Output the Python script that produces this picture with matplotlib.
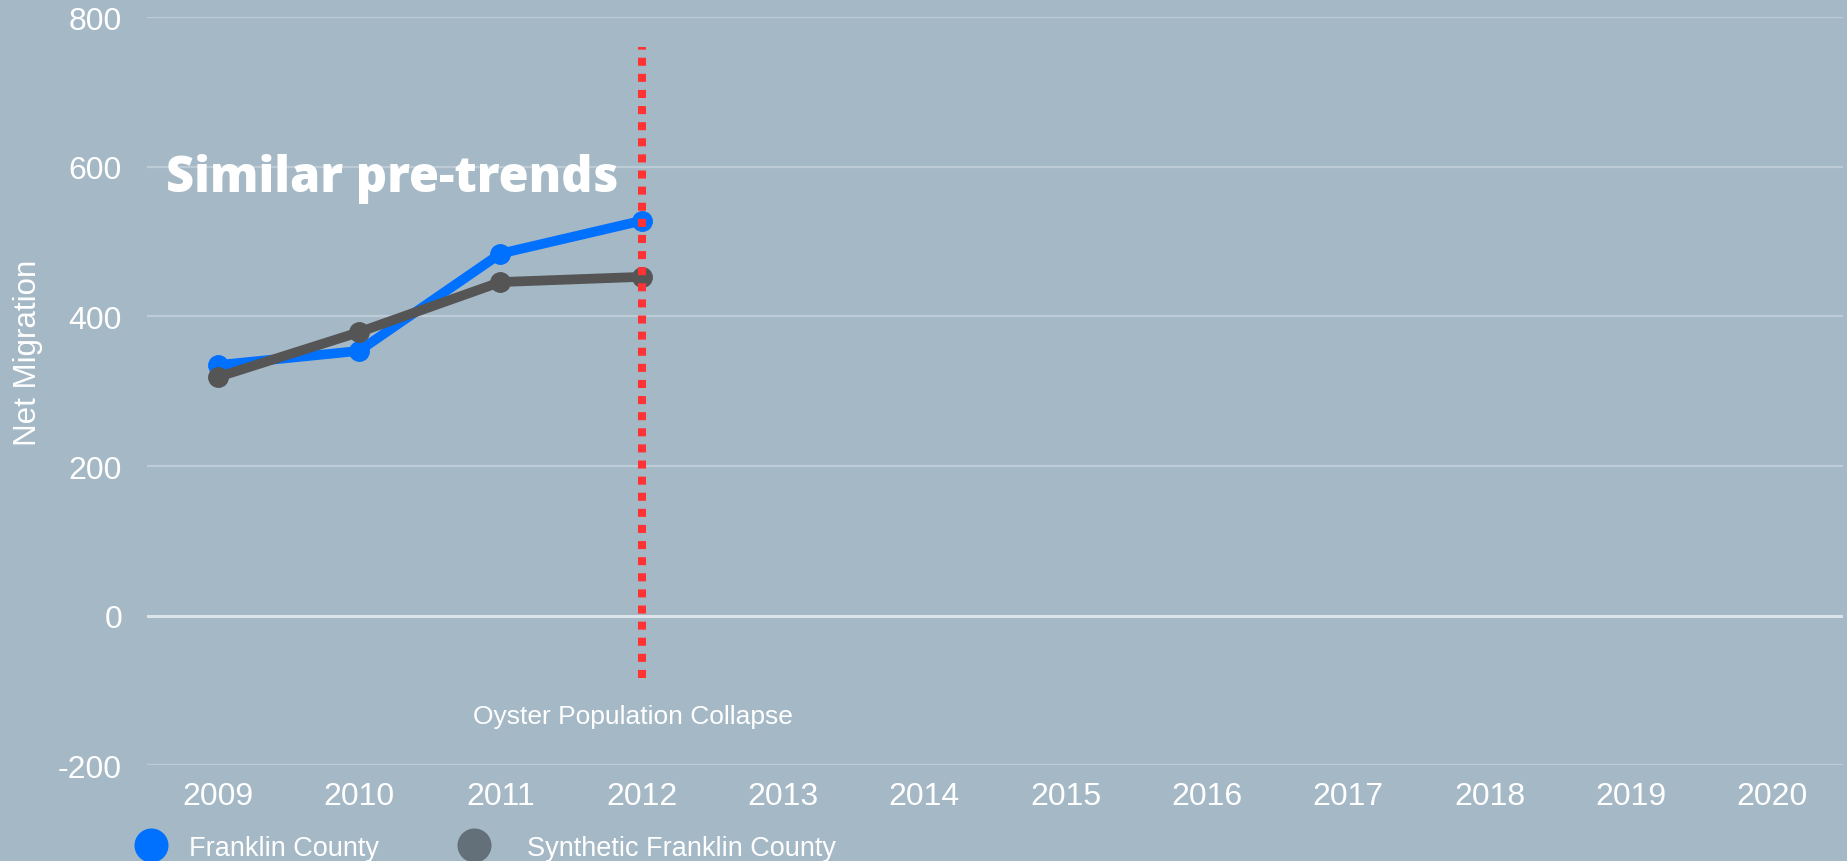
import matplotlib
matplotlib.use("Agg")
import matplotlib.pyplot as plt
from matplotlib.lines import Line2D

# ---- data ----
years = [2009, 2010, 2011, 2012, 2013, 2014, 2015, 2016, 2017, 2018, 2019, 2020]
pre_years = [2009, 2010, 2011, 2012]
franklin = [335, 354, 484, 528]
synthetic = [319, 379, 446, 453]
yticks = [-200, 0, 200, 400, 600, 800]
event_year = 2012
event_span = [-83, 760]
event_label = "Oyster Population Collapse"
annotation = "Similar pre-trends"
series_names = ["Franklin County", "Synthetic Franklin County"]

BG = "#A5B8C6"
BLUE = "#0070FF"
GRAY = "#555555"
GRAY_LEG = "#637079"
RED = "#FF3333"

plt.rcParams['font.family'] = ['Liberation Sans', 'DejaVu Sans']

fig = plt.figure(figsize=(18.47, 8.62), dpi=100, facecolor=BG)
ax = fig.add_axes([0.0796, 0.111, 0.9182, 0.8678])
ax.set_facecolor(BG)

ax.set_xlim(years[0] - 0.5, years[-1] + 0.5)
ax.set_ylim(-200, 800)
ax.set_xticks(years)
ax.set_xticklabels([str(y) for y in years])
ax.set_yticks(yticks)
ax.set_yticklabels([str(v) for v in yticks])
ax.tick_params(axis='both', length=0, colors='white', labelsize=23)
ax.tick_params(axis='x', pad=11.5)
ax.tick_params(axis='y', pad=18)
for s in ax.spines.values():
    s.set_visible(False)

for v in yticks:
    if v == 0:
        ax.axhline(v, color="#DCE4EA", lw=2.2, zorder=1)
    else:
        ax.axhline(v, color="#BCCBD6", lw=1.6, zorder=1)

ax.plot(pre_years, franklin, color=BLUE, lw=7, marker='o', markersize=14,
        solid_capstyle='round', zorder=3)
ax.plot(pre_years, synthetic, color=GRAY, lw=7, marker='o', markersize=14,
        solid_capstyle='round', zorder=4)

ax.plot([event_year, event_year], event_span, color=RED, lw=5.8,
        linestyle=(0, (1.0, 1.0)), dash_capstyle='butt', zorder=5)

ax.text(event_year - 0.06, -143.5, event_label, color='white', fontsize=19,
        ha='center', va='baseline')
ax.text(2008.634, 568, annotation, color='white', fontsize=35,
        fontweight=800, family=['Open Sans', 'DejaVu Sans'], ha='left', va='baseline')

ax.set_ylabel("Net Migration", color='white', fontsize=22.5)
ax.yaxis.set_label_coords(-0.0611, 0.5525)

h1 = Line2D([], [], marker='o', linestyle='none', markersize=24.5,
            markerfacecolor=BLUE, markeredgewidth=0)
h2 = Line2D([], [], marker='o', linestyle='none', markersize=24.5,
            markerfacecolor=GRAY_LEG, markeredgewidth=0)
for h, name, x, pad in [(h1, series_names[0], 0.0723, 0.76), (h2, series_names[1], 0.2469, 1.31)]:
    leg = fig.legend([h], [name], loc='center left', bbox_to_anchor=(x, 0.0156),
                     frameon=False, fontsize=19.5, handlelength=1.3,
                     handletextpad=pad, borderpad=0, borderaxespad=0)
    for t in leg.get_texts():
        t.set_color('white')

fig.savefig("out.png", dpi=100, facecolor=BG)
